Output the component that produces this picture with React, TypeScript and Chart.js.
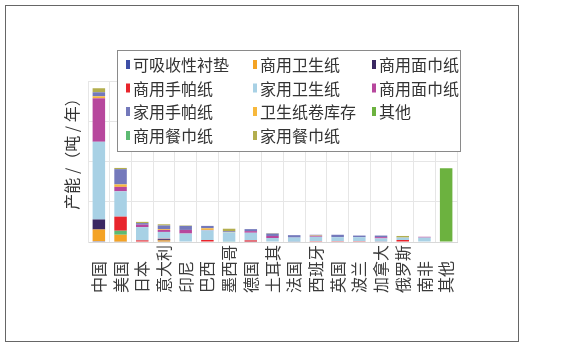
import React, { useEffect, useRef } from "react";
import { Chart, registerables } from "chart.js";
Chart.register(...registerables);

const categories = ["中国", "美国", "日本", "意大利", "印尼", "巴西", "墨西哥", "德国", "土耳其", "法国", "西班牙", "英国", "波兰", "加拿大", "俄罗斯", "南非", "其他"];

const absorbentPads = [2, 1, 0, 1, 0, 0, 0, 1, 0, 0, 0, 0, 0, 0, 0, 0, 0];
const commercialToilet = [29, 17, 0, 3, 0, 0, 0, 0, 0, 0, 0, 0, 0, 0, 0, 0, 0];
const commercialFacialDark = [25, 0, 0, 3, 0, 0, 0, 0, 0, 1, 0, 0, 0, 0, 0, 0, 0];
const commercialNapkin = [0, 10, 0, 0, 0, 0, 1, 0, 0, 0, 0, 0, 0, 0, 0, 0, 0];
const commercialHandkerchief = [0, 35, 4, 1, 0, 5, 0, 3, 0, 0, 2, 2, 2, 1, 5, 0, 0];
const householdToilet = [193, 63, 33, 17, 21, 24, 23, 19, 10, 10, 11, 10, 10, 8, 6, 11, 0];
const commercialFacialMagenta = [108, 11, 6, 5, 9, 1, 0, 4, 5, 0, 2, 0, 0, 3, 0, 2, 0];
const rollStock = [5, 6, 0, 2, 0, 4, 1, 0, 0, 0, 1, 0, 0, 0, 0, 0, 0];
const householdHandkerchief = [10, 38, 4, 9, 10, 6, 2, 5, 6, 6, 2, 6, 4, 4, 0, 0, 0];
const householdNapkin = [10, 3, 3, 3, 1, 0, 6, 0, 1, 0, 0, 0, 0, 0, 4, 0, 0];
const others = [0, 0, 0, 0, 0, 0, 0, 0, 0, 0, 0, 0, 0, 0, 0, 0, 183];

const yTitle = "产能 /（吨 / 年）";
const yMax = 400;
const yStep = 100;

// stacking order (bottom -> top)
const seriesDefs = [
  { key: "pads", label: "可吸收性衬垫", data: absorbentPads, color: "#3d4ea6" },
  { key: "cToilet", label: "商用卫生纸", data: commercialToilet, color: "#f4a325" },
  { key: "cFacialD", label: "商用面巾纸", data: commercialFacialDark, color: "#3a2762" },
  { key: "cNapkin", label: "商用餐巾纸", data: commercialNapkin, color: "#5dba73" },
  { key: "cHand", label: "商用手帕纸", data: commercialHandkerchief, color: "#e8252c" },
  { key: "hToilet", label: "家用卫生纸", data: householdToilet, color: "#a8d1e5" },
  { key: "cFacialM", label: "商用面巾纸", data: commercialFacialMagenta, color: "#b7479d" },
  { key: "roll", label: "卫生纸卷库存", data: rollStock, color: "#f7b83c" },
  { key: "hHand", label: "家用手帕纸", data: householdHandkerchief, color: "#7479bb" },
  { key: "hNapkin", label: "家用餐巾纸", data: householdNapkin, color: "#b3ae4e" },
  { key: "others", label: "其他", data: others, color: "#6cb23f" },
];

const legendOrder = ["pads", "cToilet", "cFacialD", "cHand", "hToilet", "cFacialM", "hHand", "roll", "others", "cNapkin", "hNapkin"];

// rotated labels: pad with ideographic spaces so that all labels start at the same baseline
const maxChars = Math.max(...categories.map((c) => c.length));
const paddedLabels = categories.map((c) => c + "\u3000".repeat(maxChars - c.length));

const FONT = '"Noto Sans CJK SC", "Noto Sans", sans-serif';

const overlayPlugin = {
  id: "overlay",
  afterDraw(chart: any) {
    const c = chart.ctx as CanvasRenderingContext2D;
    // y axis title
    c.save();
    c.translate(72, 150);
    c.rotate(-Math.PI / 2);
    c.font = `16px ${FONT}`;
    c.fillStyle = "#333";
    c.textAlign = "center";
    c.textBaseline = "middle";
    c.fillText(yTitle, 0, 0);
    c.restore();

    // legend box
    c.save();
    const bx = 117, by = 50, bw = 344, bh = 102;
    c.fillStyle = "#fff";
    c.fillRect(bx, by, bw, bh);
    c.strokeStyle = "#8a8a8a";
    c.lineWidth = 1;
    c.strokeRect(bx + 0.5, by + 0.5, bw - 1, bh - 1);
    const colX = [126, 253, 372];
    const rowY = [65, 88.5, 112, 136];
    c.font = `16px ${FONT}`;
    c.textBaseline = "middle";
    c.textAlign = "left";
    legendOrder.forEach((key, i) => {
      const ds = chart.data.datasets.find((d: any) => d.key === key);
      const col = i % 3;
      const row = Math.floor(i / 3);
      const x = colX[col];
      const y = rowY[row];
      c.fillStyle = ds.backgroundColor;
      c.fillRect(x, y - 5, 4, 9);
      c.fillStyle = "#333";
      c.fillText(ds.label, x + 7, y);
    });
    c.restore();
  },
};

export default function App() {
  const ref = useRef<HTMLCanvasElement>(null);
  useEffect(() => {
    document.body.style.margin = "0";
    const chart = new Chart(ref.current!, {
      type: "bar",
      data: {
        labels: paddedLabels,
        datasets: seriesDefs.map((s) => ({
          key: s.key,
          label: s.label,
          data: s.data,
          backgroundColor: s.color,
          borderWidth: 0,
          categoryPercentage: 0.64,
          barPercentage: 0.9,
        })) as any,
      },
      options: {
        responsive: false,
        devicePixelRatio: 1,
        animation: false,
        layout: { padding: { left: 88, right: 107, top: 81, bottom: 44 } },
        plugins: { legend: { display: false }, tooltip: { enabled: false } },
        scales: {
          x: {
            stacked: true,
            afterFit: (s: any) => { s.height = 60; },
            grid: { color: "#e6e6e6", offset: true, drawTicks: false },
            border: { color: "#d8d8d8" },
            ticks: {
              autoSkip: false,
              maxRotation: 90,
              minRotation: 90,
              padding: 3,
              color: "#3a3a3a",
              font: { family: FONT, size: 16 },
            },
          },
          y: {
            stacked: true,
            min: 0,
            max: yMax,
            afterFit: (s: any) => { s.width = 0; },
            ticks: { display: false, stepSize: yStep },
            grid: { color: "#e6e6e6", drawTicks: false },
            border: { color: "#e6e6e6" },
          },
        },
      },
      plugins: [overlayPlugin],
    });
    return () => chart.destroy();
  }, []);
  return (
    <div style={{ position: "relative", width: 564, height: 346, background: "#fff" }}>
      <div style={{ position: "absolute", left: 5, top: 5, width: 514, height: 337, border: "1px solid #666", boxSizing: "border-box" }} />
      <canvas ref={ref} width={564} height={346} style={{ position: "absolute", left: 0, top: 0 }} />
    </div>
  );
}
